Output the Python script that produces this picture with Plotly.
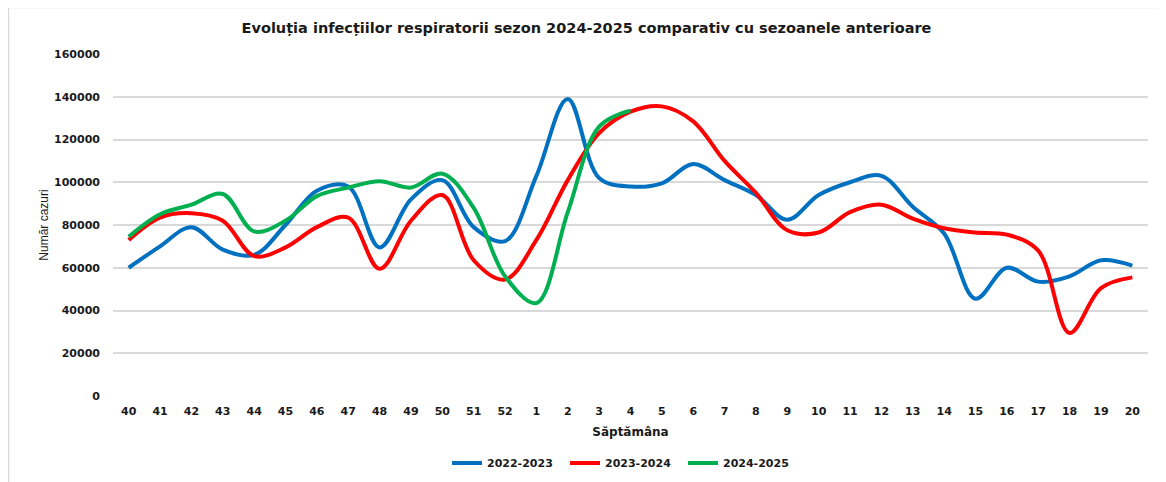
import plotly.graph_objects as go

weeks = ["40", "41", "42", "43", "44", "45", "46", "47", "48", "49", "50", "51", "52",
         "1", "2", "3", "4", "5", "6", "7", "8", "9", "10", "11", "12", "13", "14",
         "15", "16", "17", "18", "19", "20"]

s2022_2023 = [60000, 70000, 79000, 68500, 66000, 80000, 96000, 98000, 69500, 92000,
              101000, 79000, 72500, 103000, 139000, 102000, 98000, 99500, 108500, 101000,
              94000, 82500, 94000, 100000, 103000, 88500, 76000, 45500, 60000, 53500,
              56000, 63500, 61000]

s2023_2024 = [73000, 83500, 85500, 82000, 65500, 69500, 79000, 83500, 59500, 82000,
              94000, 63500, 54500, 73000, 101000, 123000, 133000, 135500, 128500, 110000,
              95000, 77500, 76500, 86000, 89500, 83000, 78500, 76500, 75500, 68000,
              29500, 50500, 55500]

s2024_2025 = [74500, 85000, 89500, 94500, 77000, 82000, 93500, 97500, 100500, 97500,
              104000, 88000, 56000, 43500, 86000, 126000, 133500]

series = [("2022-2023", s2022_2023, "#0070C0"),
          ("2023-2024", s2023_2024, "#FF0000"),
          ("2024-2025", s2024_2025, "#00B050")]

y_ticks = [0, 20000, 40000, 60000, 80000, 100000, 120000, 140000, 160000]

fig = go.Figure()
for name, vals, color in series:
    fig.add_trace(go.Scatter(
        x=weeks[:len(vals)], y=vals, name=name, mode="lines",
        line=dict(color=color, width=4, shape="spline", smoothing=1.0),
    ))

# the page body has an 8px margin, so the figure starts at page (8, 8)
OFF = 8
W, H = 1166 - OFF, 482 - OFF
# plot area in page coords: left 113, right 1148, top 54, bottom 396
L, T = 113 - OFF, 54 - OFF
R = W - (1148 - OFF)
B = H - (396 - OFF)
pw, ph = W - L - R, H - T - B

def px(x_page):
    return (x_page - OFF - L) / pw

def py(y_page):
    return (H - B - (y_page - OFF)) / ph

fig.add_shape(type="rect", xref="paper", yref="paper",
              x0=px(8.5), x1=px(1163.5), y0=py(495), y1=py(7.5),
              line=dict(color="#d9d9d9", width=1.5), fillcolor="rgba(0,0,0,0)", layer="below")

fig.update_layout(
    width=W, height=H,
    margin=dict(l=L, r=R, t=T, b=B, autoexpand=False),
    paper_bgcolor="white", plot_bgcolor="white",
    title=dict(text="<b>Evoluția infecțiilor respiratorii sezon 2024-2025 comparativ cu sezoanele anterioare</b>",
               x=(586.5 - OFF) / W, xref="container", xanchor="center",
               y=1 - (28 - OFF) / H, yref="container", yanchor="middle",
               font=dict(family="DejaVu Sans", size=14.5, color="#1a1a1a")),
    xaxis=dict(type="category", categoryorder="array", categoryarray=weeks,
               range=[-0.5, len(weeks) - 0.5], automargin=False,
               showgrid=False, showline=False, zeroline=False, ticks="",
               tickfont=dict(family="DejaVu Sans", size=11, color="#1a1a1a", weight="bold"),
               ticklabelstandoff=7,
               title=dict(text="<b>Săptămâna</b>", standoff=10,
                          font=dict(family="DejaVu Sans", size=12, color="#1a1a1a"))),
    yaxis=dict(range=[0, 160000], tickvals=y_ticks, ticktext=[str(v) for v in y_ticks],
               automargin=False,
               showgrid=True, gridcolor="#d9d9d9", gridwidth=1.5, zeroline=False,
               showline=False, ticks="",
               tickfont=dict(family="DejaVu Sans", size=11, color="#1a1a1a", weight="bold"),
               ticklabelstandoff=12,
               title=dict(text="Număr cazuri", standoff=2,
                          font=dict(family="Liberation Sans", size=12, color="#1a1a1a"))),
    legend=dict(orientation="h", x=px(624), xanchor="center", y=py(463), yanchor="middle",
                font=dict(family="DejaVu Sans", size=11, color="#1a1a1a", weight="bold"),
                itemwidth=30, entrywidth=73, bgcolor="rgba(0,0,0,0)"),
    showlegend=True,
)

fig.write_html("out.html")
